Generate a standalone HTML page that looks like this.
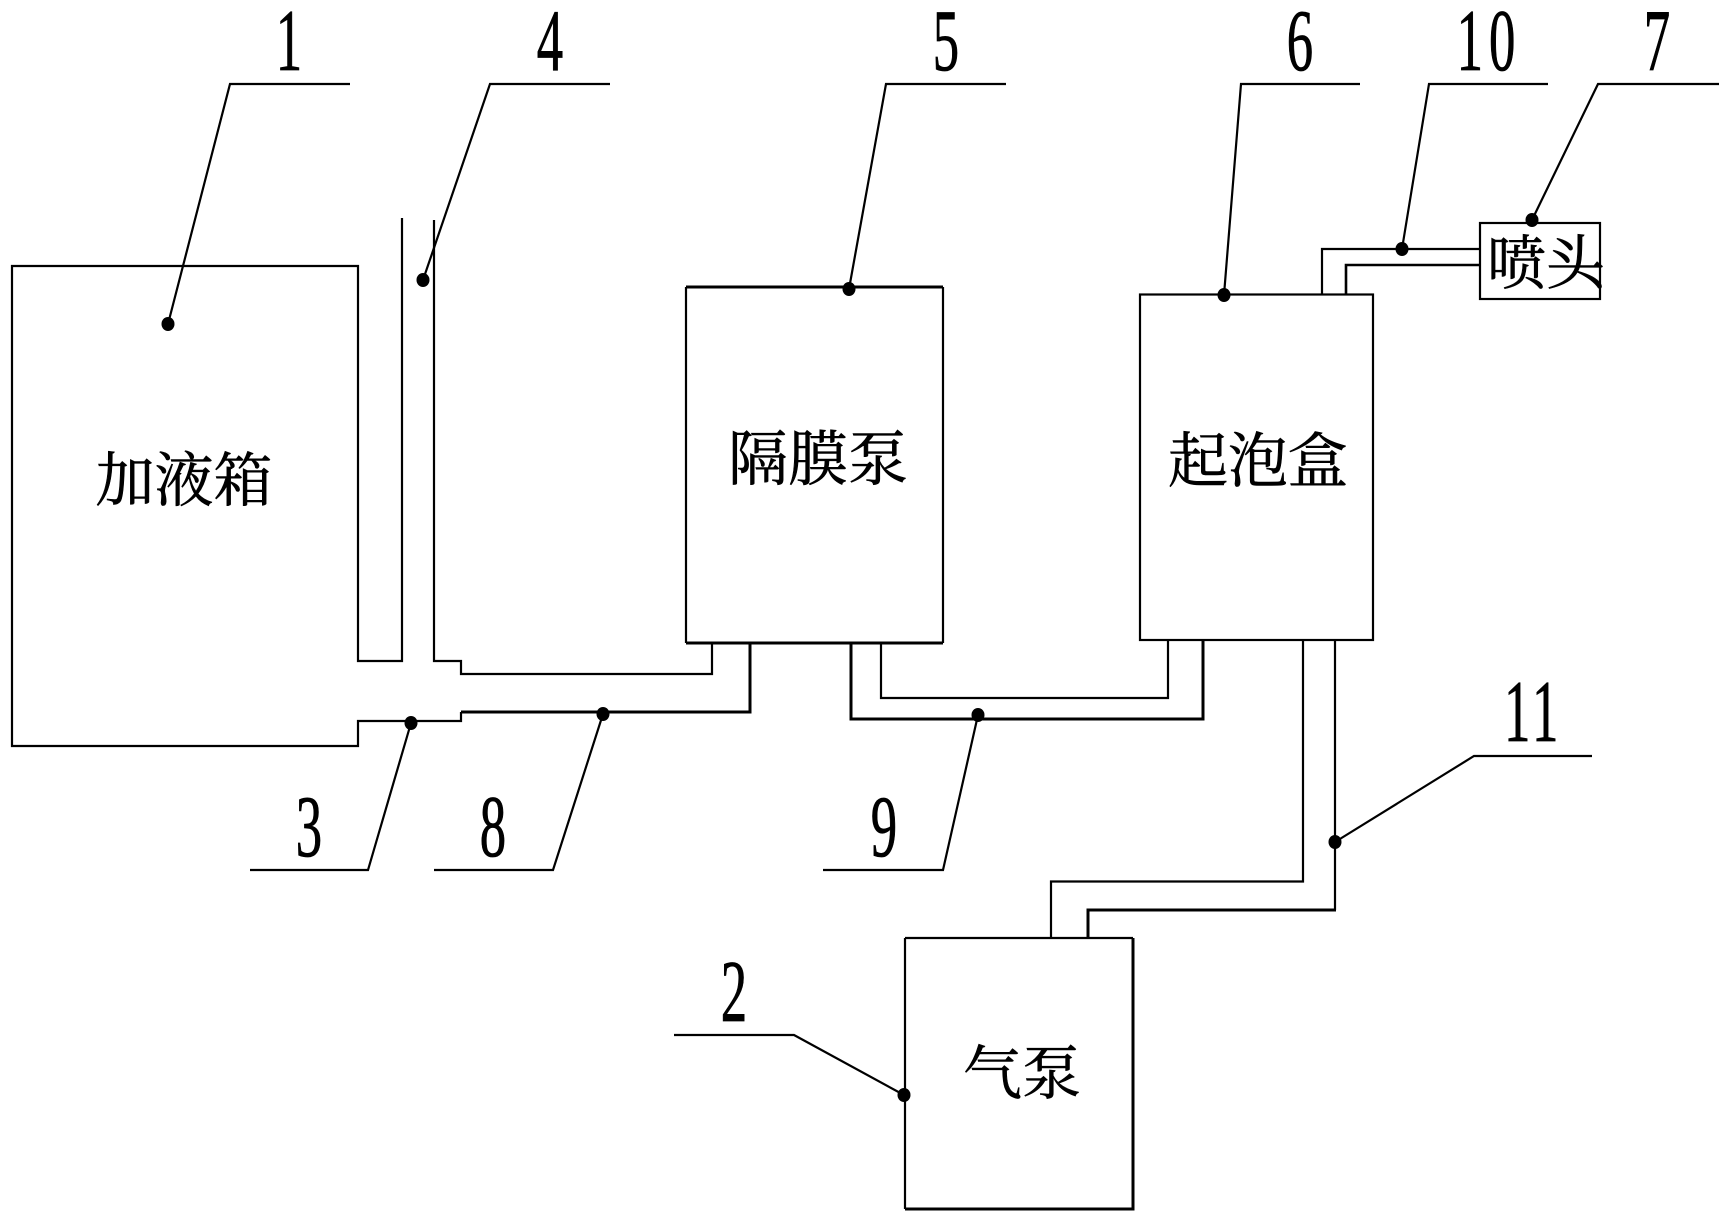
<!DOCTYPE html>
<html lang="zh">
<head>
<meta charset="utf-8">
<title>Diagram</title>
<style>
html,body{margin:0;padding:0;background:#fff;width:1727px;height:1223px;overflow:hidden}
svg{display:block}
.l{fill:none;stroke:#000;stroke-width:2.2;stroke-linejoin:miter}
.t{fill:none;stroke:#000;stroke-width:3}
.m{fill:none;stroke:#000;stroke-width:2.6}
.d{font-family:"Liberation Serif",serif;font-size:88px;fill:#000;stroke:#000;stroke-width:.8;text-anchor:middle}
.c{font-family:"Liberation Serif","Noto Serif CJK SC",serif;fill:#000;stroke:#000;stroke-width:.6;text-anchor:middle}
</style>
</head>
<body>
<svg width="1727" height="1223" viewBox="0 0 1727 1223" xmlns="http://www.w3.org/2000/svg">
<rect width="1727" height="1223" fill="#fff"/>

<!-- tank and pipe 3/4 -->
<path class="l" d="M402 218V661H358V266H12V746H358V721H461V712"/>
<path class="l" d="M434 220V661H461V674H712V643"/>
<path class="t" d="M461 712H750V643"/>

<!-- diaphragm pump -->
<path class="t" d="M686 287H943"/>
<path class="l" d="M686 287V643M943 287V643"/>
<path class="t" d="M686 643H943"/>

<!-- pipe 9 -->
<path class="l" d="M881 643V698H1168V640"/>
<path class="t" d="M851 643V719H1203V640"/>

<!-- foam box -->
<rect class="l" x="1140" y="294.5" width="233" height="345.5"/>

<!-- nozzle and pipe 10 -->
<rect class="l" x="1480" y="223" width="120" height="76"/>
<path class="l" d="M1322 294V249H1480"/>
<path class="m" d="M1346 294V265H1480"/>

<!-- pipe 11 -->
<path class="l" d="M1303 640V881.5H1051V938"/>
<path class="l" d="M1335 640V910"/>
<path class="t" d="M1336 910H1088V938"/>

<!-- air pump -->
<path class="l" d="M905 938V1209"/>
<path class="l" d="M905 938H1133"/>
<path class="t" d="M1133 938V1209H905"/>

<!-- leaders -->
<path class="l" d="M350 84H230L168 324"/>
<path class="l" d="M610 84H490L423 280"/>
<path class="l" d="M1006 84H886L849 289"/>
<path class="l" d="M1360 84H1241L1224 295"/>
<path class="l" d="M1548 84H1429L1402 249"/>
<path class="l" d="M1719 84H1598L1532 220"/>
<path class="l" d="M250 870H368L411 723"/>
<path class="l" d="M434 870H553L603 714"/>
<path class="l" d="M823 870H943L978 715"/>
<path class="l" d="M674 1035H794L904 1095"/>
<path class="l" d="M1592 756H1474L1335 842"/>

<!-- dots -->
<g fill="#000">
<ellipse cx="168" cy="324" rx="6.5" ry="7"/>
<ellipse cx="423" cy="280" rx="6.5" ry="7"/>
<ellipse cx="849" cy="289" rx="6.5" ry="7"/>
<ellipse cx="1224" cy="295" rx="6.5" ry="7"/>
<ellipse cx="1402" cy="249" rx="6.5" ry="7"/>
<ellipse cx="1532" cy="220" rx="6.5" ry="7"/>
<ellipse cx="411" cy="723" rx="6.5" ry="7"/>
<ellipse cx="603" cy="714" rx="6.5" ry="7"/>
<ellipse cx="978" cy="715" rx="6.5" ry="7"/>
<ellipse cx="904" cy="1095" rx="6.5" ry="7"/>
<ellipse cx="1335" cy="842" rx="6.5" ry="7"/>
</g>

<!-- reference numerals -->
<text class="d" transform="translate(289,70) scale(.6,1)">1</text>
<text class="d" transform="translate(550,70) scale(.6,1)">4</text>
<text class="d" transform="translate(946,70) scale(.6,1)">5</text>
<text class="d" transform="translate(1300,70) scale(.6,1)">6</text>
<text class="d" transform="translate(1489,70) scale(.6,1)" letter-spacing="10">10</text>
<text class="d" transform="translate(1657,70) scale(.6,1)">7</text>
<text class="d" transform="translate(309,856) scale(.6,1)">3</text>
<text class="d" transform="translate(493,856) scale(.6,1)">8</text>
<text class="d" transform="translate(884,856) scale(.6,1)">9</text>
<text class="d" transform="translate(734,1021) scale(.6,1)">2</text>
<text class="d" transform="translate(1533,741) scale(.6,1)" letter-spacing="6">11</text>

<!-- component labels -->
<text class="c" font-size="59" x="184" y="501">加液箱</text>
<text class="c" font-size="60" x="818" y="480">隔膜泵</text>
<text class="c" font-size="60" x="1258" y="482">起泡盒</text>
<text class="c" font-size="59" x="1546" y="284">喷头</text>
<text class="c" font-size="59" x="1022" y="1094">气泵</text>
</svg>
</body>
</html>
